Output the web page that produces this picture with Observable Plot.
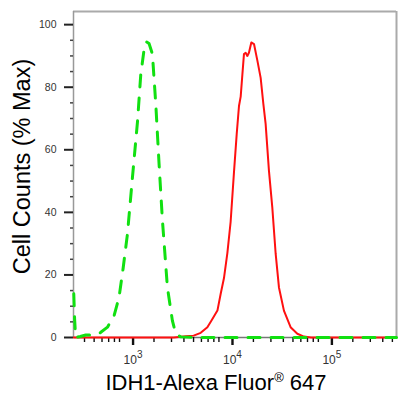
<!DOCTYPE html>
<html>
<head>
<meta charset="utf-8">
<script src="https://cdn.jsdelivr.net/npm/d3@7"></script>
<script src="https://cdn.jsdelivr.net/npm/@observablehq/plot@0.6"></script>
<style>
  html, body { margin: 0; padding: 0; background: #fff; }
  #chart svg { display: block; }
</style>
</head>
<body>
<div id="chart"></div>
<script>
// Isotype control (green dashed): fluorescence intensity vs % max
const controlX = [312, 318, 326, 363, 412, 495, 575, 681, 794, 891, 977, 1081, 1213, 1365, 1472, 1589, 1679, 1782, 1928, 2084, 2249, 2432, 2729, 3062, 3311, 3715, 5012, 550000];
const controlY = [14, 6, 0, 0.3, 0.8, 0.8, 1.5, 3.3, 7, 12.9, 22, 33, 51, 69, 84, 92, 94.5, 94, 90.6, 74.7, 55.5, 37.4, 16, 5.4, 1.2, 0.2, 0, 0];
// IDH1 stained sample (red solid)
const sampleX = [312, 3162, 4169, 5012, 5902, 6887, 7603, 8690, 9376, 10116, 10940, 11803, 12764, 13583, 14322, 14894, 15488, 16069, 16711, 17378, 18030, 19055, 20277, 21928, 23659, 25177, 26546, 28642, 30974, 33497, 36141, 40551, 47315, 55335, 64417, 75858, 550000];
const sampleY = [0, 0, 0.4, 0.6, 1.5, 3.3, 5.5, 8.6, 14, 19, 27, 37, 53, 65, 74, 77, 84, 90.6, 91, 90, 91, 94.3, 93.8, 88.5, 83, 74.7, 68.3, 53.4, 41.6, 26.7, 16, 8.6, 3.3, 1.2, 0.3, 0, 0];

const xMajorTicks = [1e3, 1e4, 1e5];
const xMajorBase = "10";
const xMajorExponents = ["3", "4", "5"];
const xMinorTicks = [400, 500, 600, 700, 800, 900, 2000, 3000, 4000, 5000, 6000, 7000, 8000, 9000, 20000, 30000, 40000, 50000, 60000, 70000, 80000, 90000, 200000, 300000, 400000, 500000];
const yMajorTicks = [0, 20, 40, 60, 80, 100];
const yMinorTicks = [5, 10, 15, 25, 30, 35, 45, 50, 55, 65, 70, 75, 85, 90, 95];
const xDomain = [310, 550000];
const yDomain = [0, 104.2];
const xTitle = "IDH1-Alexa Fluor® 647";
const yTitle = "Cell Counts (% Max)";

const control = controlX.map((x, i) => ({x, y: controlY[i]}));
const sample = sampleX.map((x, i) => ({x, y: sampleY[i]}));

const chart = Plot.plot({
  width: 409,
  height: 394,
  marginLeft: 73,
  marginRight: 13,
  marginTop: 11,
  marginBottom: 57,
  x: {type: "log", domain: xDomain},
  y: {domain: yDomain},
  style: {fontFamily: "'Liberation Sans', Arial, sans-serif", background: "#fff", color: "#222"},
  marks: [
    Plot.ruleY([yDomain[1]], {stroke: "#aaa", strokeWidth: 2}),
    Plot.ruleX([xDomain[1]], {stroke: "#aaa", strokeWidth: 2}),
    Plot.ruleX([xDomain[0]], {stroke: "#999", strokeWidth: 1.5}),
    Plot.ruleY([0], {stroke: "#777", strokeWidth: 1.5}),
    Plot.axisY({ticks: yMinorTicks, tickSize: 3, tickFormat: () => "", stroke: "#444", strokeWidth: 1.5, label: null}),
    Plot.axisY({ticks: yMajorTicks, tickSize: 9, tickPadding: 8, fontSize: 10.5, stroke: "#222", strokeWidth: 2, fill: "#333", label: null}),
    Plot.axisX({ticks: xMinorTicks, tickSize: 5, tickFormat: () => "", stroke: "#111", strokeWidth: 1.4, label: null}),
    Plot.axisX({ticks: xMajorTicks, tickSize: 8, tickPadding: 10, fontSize: 12, stroke: "#111", strokeWidth: 2.4, fill: "#333",
      tickFormat: (d) => xMajorBase + "^" + xMajorExponents[xMajorTicks.indexOf(d)], dx: 9, label: null}),
    Plot.line(sample, {x: "x", y: "y", stroke: "#ff1010", strokeWidth: 2, curve: "linear"}),
    Plot.line(control, {x: "x", y: "y", stroke: "#11e011", strokeWidth: 3, strokeDasharray: "12,11", curve: "linear"}),
    Plot.text([yTitle], {frameAnchor: "left", rotate: -90, dx: -51, dy: -8, fontSize: 23.5, fill: "#000", textAnchor: "middle", lineAnchor: "middle"}),
    Plot.text([xTitle], {frameAnchor: "bottom", dx: -19, dy: 45, fontSize: 22, fill: "#000", textAnchor: "middle", lineAnchor: "middle"})
  ]
});

document.getElementById("chart").appendChild(chart);

const ns = "http://www.w3.org/2000/svg";
function tspan(text, attrs) {
  const s = document.createElementNS(ns, "tspan");
  s.textContent = text;
  for (const k in attrs) s.setAttribute(k, attrs[k]);
  return s;
}
chart.querySelectorAll("text").forEach((t) => {
  const c = t.textContent;
  if (c === xTitle) {
    const parts = xTitle.split("®");
    t.textContent = "";
    t.appendChild(tspan(parts[0], {}));
    t.appendChild(tspan("®", {"font-size": "13", dy: "-8"}));
    t.appendChild(tspan(parts[1], {dy: "8"}));
  } else if (/^10\^\d$/.test(c)) {
    const [base, exp] = c.split("^");
    t.textContent = "";
    t.appendChild(tspan(base, {}));
    t.appendChild(tspan(exp, {"font-size": "10", dy: "-6"}));
  }
});
</script>
</body>
</html>
